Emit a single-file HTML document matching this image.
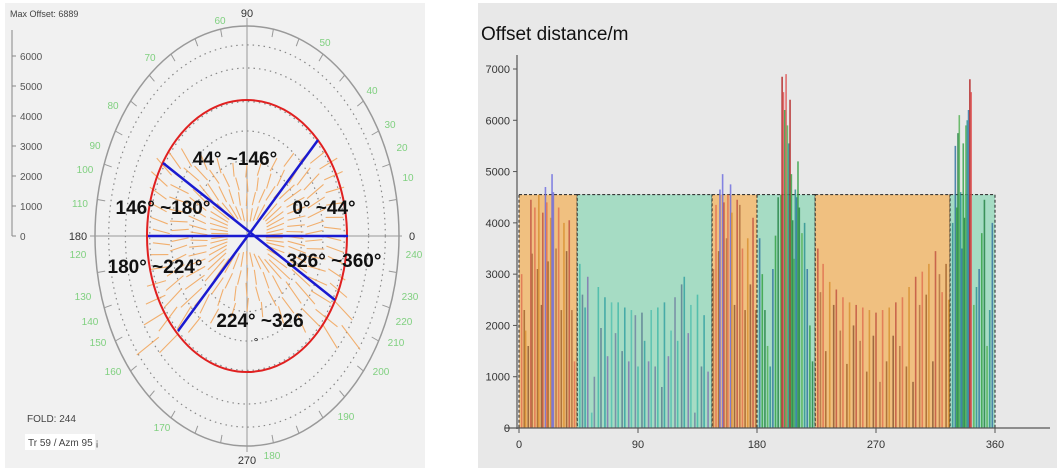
<!DOCTYPE html>
<html><head><meta charset="utf-8"><style>
body{margin:0;background:#fff;width:1059px;height:471px;overflow:hidden;font-family:"Liberation Sans",sans-serif}
svg{position:absolute;left:0;top:0}
</style></head><body>
<svg id="s" width="1059" height="471">
<rect x="5" y="3" width="420" height="465" fill="#f1f1f1"/>
<rect x="478" y="3" width="579" height="465" fill="#e8e8e8"/>
<g id="polar"></g>
<g id="bars"></g>
</svg>
<script>
const ns="http://www.w3.org/2000/svg";
function mk(p,t,a,txt){const e=document.createElementNS(ns,t);for(const k in a)e.setAttribute(k,a[k]);if(txt!==undefined)e.textContent=txt;p.appendChild(e);return e;}
// ---------- right chart data ----------
const zoneStarts=[0,44,146,180,224,326];
const zoneEnds=[44,146,180,224,326,360];
const zoneKinds=["orange","teal","orange","teal","orange","teal"];
const barAngles=[2,4,5,7,9,10,12,14,15,17,18,20,21,22,24,25,26,28,30,32,34,36,38,40,42,
46,48,50,52,55,57,60,62,65,67,70,73,75,78,80,83,85,88,90,93,95,98,100,103,105,108,110,113,115,118,120,123,125,128,130,133,135,138,140,143,
147,149,151,152,154,155,157,158,160,161,163,165,167,169,171,173,175,177,179,
182,184,186,188,190,192,194,196,198,199,200,201,202,203,204,205,206,207,208,209,210,211,212,214,216,218,220,222,
226,228,230,232,235,238,240,243,245,248,250,253,255,258,260,263,265,268,270,273,275,278,280,283,285,288,290,293,295,298,300,303,305,308,310,313,315,318,320,323,325,
328,330,331,332,333,334,335,336,337,338,339,340,341,342,344,346,348,350,352,354,356,358];
const barValues=[3000,2300,1900,1600,4450,3400,4300,3100,4550,2400,4200,4700,4400,3250,4100,4950,4600,3500,4300,2300,4000,3450,4050,2300,1300,
3200,2600,2350,2950,300,1000,2750,1950,2550,1400,2450,1850,2450,1500,2350,1300,2300,2200,1200,2250,1700,1300,2300,1200,2350,800,2450,1400,1900,2550,1700,2800,2950,1850,2400,300,2600,1200,2200,1100,
3100,4350,3450,4650,4950,4400,3700,4550,4750,4200,2400,4450,4350,3500,2300,3700,2800,4100,2300,
3700,3000,2300,1600,1200,3100,3750,4500,4550,6850,6550,6200,6900,5900,5550,6400,4950,4050,3300,4650,4500,5200,4300,3800,4000,3100,2000,1300,
3500,2650,3200,1500,2850,2400,2700,1900,2550,1250,2450,2000,2400,1700,2350,1100,2300,1800,2250,900,2300,1300,2350,1800,2450,1600,2550,1200,2750,900,2950,2400,3050,2600,3200,1300,3450,3000,2650,3200,2500,
4000,5500,4300,5750,6100,4600,3500,5550,4100,5900,6000,6200,6800,6550,2400,2750,3100,3800,4450,1600,2300,4000];
const yTicks=[0,1000,2000,3000,4000,5000,6000,7000];
const xTicks=[0,90,180,270,360];
const boxTop=4550;
const X=a=>519+a*(995-519)/360, Y=v=>428-v*(428-69)/7000;
const B=document.getElementById('bars');
for(let i=0;i<zoneStarts.length;i++){
 const r=mk(B,'rect',{x:X(zoneStarts[i]),y:Y(boxTop),width:X(zoneEnds[i])-X(zoneStarts[i]),height:Y(0)-Y(boxTop),fill:zoneKinds[i]=="orange"?"#f0c080":"#a6dcc4",stroke:"#222","stroke-width":1,"stroke-dasharray":"3,2"});
 
 
}
const palO=["#e07050","#a0602a","#d89030","#8a5530","#c05040","#b07040"];
const palT=["#7080a0","#40b8a8","#5a7a90","#30a0a0","#8070b0","#50c0b0"];
const palG=["#30a040","#208040","#50b050","#2a9090","#3070a0"];
const n=Math.min(barAngles.length,barValues.length);
for(let i=0;i<n;i++){
 const a=barAngles[i],v=barValues[i];
 let c;
 if(v>6300)c=(i%2?"#b01818":"#e05050");
 else if(v>boxTop&&(a<180))c="#6a6ae0";
 else if((a>180&&a<224)||a>326)c=palG[i%palG.length];
 else if(a<44||(a>146&&a<180)||(a>224&&a<326))c=palO[i%palO.length];
 else c=palT[i%palT.length];
 const l=mk(B,'line',{x1:X(a),x2:X(a),y1:Y(0),y2:Y(v),stroke:c,"stroke-width":1.6,opacity:0.8});
 
 
}
mk(B,'line',{x1:517,y1:55,x2:517,y2:429,stroke:"#555","stroke-width":1.2});
mk(B,'line',{x1:505,y1:428,x2:1050,y2:428,stroke:"#555","stroke-width":1.2});
yTicks.forEach(t=>{mk(B,'line',{x1:513,x2:517,y1:Y(t),y2:Y(t),stroke:"#555"});
 const e=mk(B,'text',{x:510,y:Y(t)+4,"font-size":11,"text-anchor":"end",fill:"#333"},t);
 });
xTicks.forEach(t=>{mk(B,'line',{x1:X(t),x2:X(t),y1:428,y2:433,stroke:"#555"});
 const e=mk(B,'text',{x:X(t),y:448,"font-size":11,"text-anchor":"middle",fill:"#333"},t);
 });
const tt=mk(B,'text',{x:481,y:40,"font-size":19,fill:"#111"},"Offset distance/m");


// ---------- polar ----------
const P=document.getElementById('polar');
const cx=247,cy=236,RX=152,RY=210;
const rayAz=[3,8,14,20,26,32,38,44,52,62,75,90,105,118,128,136,142,148,154,160,166,172,177,183,188,194,200,206,212,218,224,230,240,255,270,285,300,310,318,324,330,336,342,348,353,358];
const rayLen=[0.62,0.64,0.66,0.68,0.7,0.7,0.66,0.6,0.5,0.42,0.36,0.34,0.36,0.42,0.5,0.6,0.66,0.7,0.7,0.68,0.66,0.64,0.62,0.62,0.64,0.66,0.7,0.74,0.8,0.92,0.8,0.6,0.48,0.4,0.36,0.4,0.48,0.6,0.8,0.92,0.8,0.72,0.68,0.66,0.64,0.62];
const labelAngles=[60,50,40,30,20,10,240,230,220,210,200,190,180,170,160,150,140,130,120,110,100,90,80,70];
const labelPos=[[220,20],[325,42],[372,90],[390,124],[402,147],[408,177],[414,254],[410,296],[404,321],[396,342],[381,371],[346,416],[272,455],[162,427],[113,371],[98,342],[90,321],[83,296],[78,254],[80,203],[85,169],[95,145],[113,105],[150,57]];
mk(P,'ellipse',{cx,cy,rx:RX,ry:RY,fill:"none",stroke:"#999","stroke-width":1.5});
[0.8,0.64,0.5,0.36].forEach(f=>mk(P,'ellipse',{cx,cy,rx:RX*f,ry:RY*f,fill:"none",stroke:"#888","stroke-width":1.2,"stroke-dasharray":"1.5,4"}));
mk(P,'ellipse',{cx,cy,rx:RX*0.91,ry:RY*0.91,fill:"none",stroke:"#888","stroke-width":1.2,"stroke-dasharray":"1.5,4"});
for(let d=0;d<360;d+=10){const t=d*Math.PI/180,c=Math.cos(t),s=Math.sin(t);
 mk(P,'line',{x1:cx+RX*c,y1:cy-RY*s,x2:cx+(RX-8)*c,y2:cy-(RY-8)*s,stroke:"#999"});}
mk(P,'line',{x1:90,y1:cy,x2:402,y2:cy,stroke:"#999"});
mk(P,'line',{x1:cx,y1:18,x2:cx,y2:452,stroke:"#999"});
rayAz.forEach((az,i)=>{const t=az*Math.PI/180;
 const L=rayLen[i];
 [[0.2,0.38],[0.42,0.6],[0.62,0.8],[0.82,1.0]].forEach((seg,k)=>{
  const r1=seg[0]*L,r2=seg[1]*L,dt=(k%2?0.03:-0.03);
  const l=mk(P,'line',{x1:cx+RX*r1*Math.cos(t+dt),y1:cy-RY*r1*Math.sin(t+dt),x2:cx+RX*r2*Math.cos(t),y2:cy-RY*r2*Math.sin(t),stroke:"#f2a860","stroke-width":1.1,opacity:0.9});
  });});
mk(P,'ellipse',{cx,cy,rx:100,ry:136,fill:"none",stroke:"#e02020","stroke-width":2});
[[318,140,178,331],[163,163,335,300],[148,236,348,236]].forEach(p=>mk(P,'line',{x1:p[0],y1:p[1],x2:p[2],y2:p[3],stroke:"#1a1ad0","stroke-width":2.5}));
labelAngles.forEach((a,i)=>{const e=mk(P,'text',{x:labelPos[i][0],y:labelPos[i][1]+4,"font-size":10,fill:"#80d080","text-anchor":"middle"},a);
 });
[["90",247,17],["0",412,240],["180",78,240],["270",247,464]].forEach(t=>mk(P,'text',{x:t[1],y:t[2],"font-size":11,"text-anchor":"middle",fill:"#333"},t[0]));
mk(P,'line',{x1:12,y1:30,x2:12,y2:236,stroke:"#888"});
[0,1000,2000,3000,4000,5000,6000].forEach(v=>{const y=236-v*30/1000;mk(P,'line',{x1:12,x2:16,y1:y,y2:y,stroke:"#888"});
 mk(P,'text',{x:20,y:y+4,"font-size":10,fill:"#555"},v);});
[["44°  ~146°",235,165],["146°  ~180°",163,214],["0°  ~44°",324,214],["180°  ~224°",155,273],["326°  ~360°",334,267],["224°  ~326",260,327]].forEach(t=>{
 const e=mk(P,'text',{x:t[1],y:t[2],"font-size":19,"font-weight":"bold","text-anchor":"middle",fill:"#111"},t[0]);
 });
mk(P,'text',{x:256,y:346,"font-size":12,"text-anchor":"middle",fill:"#111"},"°");
mk(P,'text',{x:10,y:17,"font-size":9,fill:"#444"},"Max Offset:  6889");
mk(P,'text',{x:27,y:422,"font-size":10,fill:"#444"},"FOLD:  244");
mk(P,'rect',{x:25,y:434,width:70,height:16,fill:"#fff"});
mk(P,'text',{x:28,y:446,"font-size":10,fill:"#444"},"Tr 59 / Azm 95 ¡");
</script>
</body></html>
